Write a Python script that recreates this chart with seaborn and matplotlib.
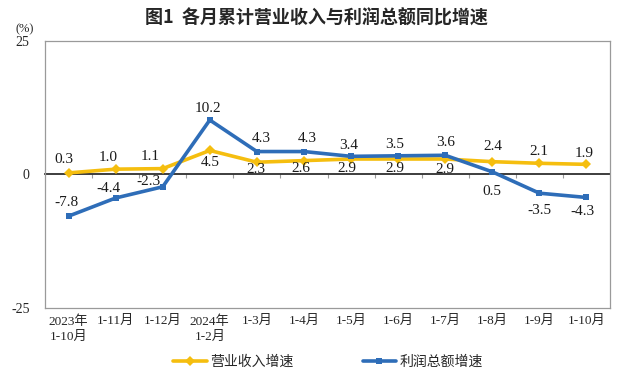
import numpy as np
import pandas as pd
import matplotlib
matplotlib.use("Agg")
import matplotlib.pyplot as plt
import seaborn as sns

# ---- data ----
categories = ["2023年\n1-10月", "1-11月", "1-12月", "2024年\n1-2月", "1-3月", "1-4月",
              "1-5月", "1-6月", "1-7月", "1-8月", "1-9月", "1-10月"]
revenue_growth = [0.3, 1.0, 1.1, 4.5, 2.3, 2.6, 2.9, 2.9, 2.9, 2.4, 2.1, 1.9]
profit_growth = [-7.8, -4.4, -2.3, 10.2, 4.3, 4.3, 3.4, 3.5, 3.6, 0.5, -3.5, -4.3]
series_names = ["营业收入增速", "利润总额增速"]
y_ticks = [-25, 0, 25]

# label offsets (pixels)
rev_offsets = [(-5, 13), (-7, 12), (-13, 12), (0, -12), (-1, -7), (-3, -8), (-4, -9),
               (-3, -9), (0, -10), (1, 15), (0, 12), (-2, 11)]
prof_offsets = [(-2, 14), (-7, 9), (-14, 5), (-2, 12), (4, 13), (3, 13), (-2, 11),
                (-3, 11), (0, 13), (0, -20), (0, -17), (-4, -14)]

YELLOW = "#F5BE0F"
BLUE = "#2E6DB8"
GRAY = "#9A9A9A"

sns.set_theme(style="white")
SERIF = ["Liberation Serif", "Noto Sans CJK SC"]
plt.rcParams["font.family"] = SERIF

fig = plt.figure(figsize=(6.29, 3.78), dpi=100)
ax = fig.add_axes([45 / 629, 1 - 308 / 378, (610 - 45) / 629, (308 - 41) / 378])

x = np.arange(len(categories))
df = pd.DataFrame({"x": x, series_names[0]: revenue_growth, series_names[1]: profit_growth})

sns.lineplot(data=df, x="x", y=series_names[0], ax=ax, color=YELLOW, marker="D",
             markersize=5.5, markeredgewidth=0, linewidth=2.6, label=series_names[0], zorder=3)
sns.lineplot(data=df, x="x", y=series_names[1], ax=ax, color=BLUE, marker="s",
             markersize=5, markeredgewidth=0, linewidth=2.6, label=series_names[1], zorder=4)

for i, v in enumerate(revenue_growth):
    dx, dy = rev_offsets[i]
    ax.annotate(f"{v:.1f}", (x[i], v), xytext=(dx, dy), textcoords="offset pixels",
                ha="center", va="center", fontsize=11, family="Liberation Serif", color="#1a1a1a")
for i, v in enumerate(profit_growth):
    dx, dy = prof_offsets[i]
    ax.annotate(f"{v:.1f}", (x[i], v), xytext=(dx, dy), textcoords="offset pixels",
                ha="center", va="center", fontsize=11, family="Liberation Serif", color="#1a1a1a")

ax.set_xlim(-0.5, len(categories) - 0.5)
ax.set_ylim(y_ticks[0], y_ticks[-1])
ax.set_yticks(y_ticks)
ax.set_yticklabels([str(t) for t in y_ticks], fontsize=10, family="Liberation Serif")
ax.set_xticks(x)
ax.set_xticklabels(categories, fontsize=9.5, family=SERIF, linespacing=1.35)
ax.tick_params(axis="x", length=0, pad=5)
ax.tick_params(axis="y", length=0, pad=11)
ax.set_xlabel("")
ax.set_ylabel("")
for sp in ax.spines.values():
    sp.set_visible(True)
    sp.set_color(GRAY)
    sp.set_linewidth(0.9)

# zero axis with boundary ticks
sec = ax.secondary_xaxis(0.5)
sec.set_xticks(x[:-1] + 0.5)
sec.set_xticklabels([""] * (len(x) - 1))
sec.tick_params(direction="in", length=3, color=GRAY, width=0.8)
sec.spines["bottom"].set_color(GRAY)
sec.spines["bottom"].set_linewidth(0.9)

ax.get_legend().remove()
handles, labels = ax.get_legend_handles_labels()
fig.legend(handles, labels, loc="center", bbox_to_anchor=(328 / 629, 1 - 362 / 378), ncol=2,
           frameon=False, handlelength=2.4, handletextpad=0.25, columnspacing=5.0,
           prop={"family": "Noto Sans CJK SC", "size": 10})

fig.text(25 / 629, 1 - 29 / 378, "(%)", ha="center", va="center", fontsize=9,
         family="Liberation Serif")
fig.text(0.503, 1 - 18 / 378, "图1  各月累计营业收入与利润总额同比增速", ha="center", va="center",
         fontsize=13, fontweight="bold", family=["Noto Sans CJK SC", "DejaVu Sans"])

fig.savefig("out.png", dpi=100)
